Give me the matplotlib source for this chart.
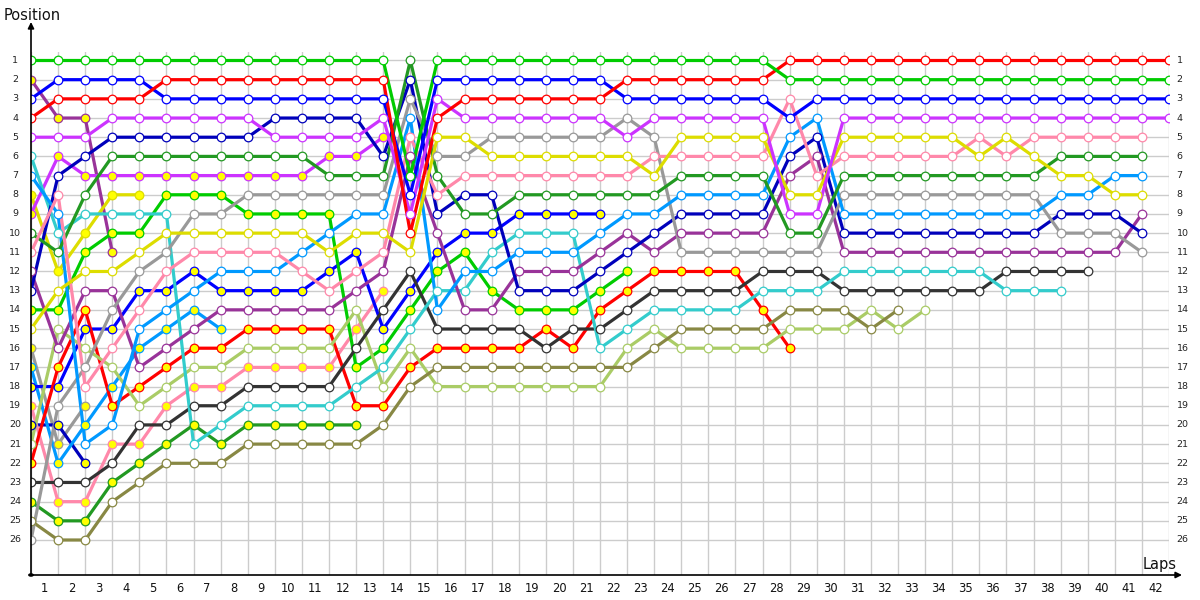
import numpy as np
import matplotlib
matplotlib.use("Agg")
import matplotlib.pyplot as plt

N = None
laps = list(range(0, 43))

# ---- positions per driver, index = lap 0..42 (None = not running) ----
green_w = [1,1,1,1,1,1,1,1,1,1,1,1,1,1,7,1,1,1,1,1,1,1,1,1,1,1,1,1,2,2,2,2,2,2,2,2,2,2,2,2,2,2,2]
red_w = [4,3,3,3,3,2,2,2,2,2,2,2,2,2,10,4,3,3,3,3,3,3,2,2,2,2,2,2,1,1,1,1,1,1,1,1,1,1,1,1,1,1,1]
blue_w = [3,2,2,2,2,3,3,3,3,3,3,3,3,3,8,2,2,2,2,2,2,2,3,3,3,3,3,3,4,3,3,3,3,3,3,3,3,3,3,3,3,3,3]
violet_w = [5,5,5,4,4,4,4,4,4,5,5,5,5,4,9,3,4,4,4,4,4,4,5,4,4,4,4,4,9,9,4,4,4,4,4,4,4,4,4,4,4,4,4]
darkblue_w = [13,7,6,5,5,5,5,5,5,4,4,4,4,6,2,9,8,8,13,13,13,12,11,10,9,9,9,9,6,5,10,10,10,10,10,10,10,10,9,9,9,10,N]
darkgreen_w = [10,11,8,6,6,6,6,6,6,6,6,7,7,7,1,7,9,9,8,8,8,8,8,8,7,7,7,7,10,10,7,7,7,7,7,7,7,7,6,6,6,6,N]
gray_w = [26,19,17,14,12,11,9,9,8,8,8,8,8,8,3,6,6,5,5,5,5,5,4,5,11,11,11,11,11,11,8,8,8,8,8,8,8,8,10,10,10,11,N]
yellow_w = [15,13,12,12,11,10,10,10,10,10,10,11,10,10,11,5,5,6,6,6,6,6,6,7,5,5,5,5,8,8,5,5,5,5,5,6,5,6,7,7,8,8,N]
pink_w = [11,8,18,16,14,12,11,11,11,11,12,13,12,11,5,8,7,7,7,7,7,7,7,6,6,6,6,6,3,7,6,6,6,6,6,5,6,5,5,5,5,5,N]
purple_w = [12,16,13,13,17,16,15,14,14,14,14,14,13,12,6,10,14,14,12,12,12,11,10,11,10,10,10,10,7,6,11,11,11,11,11,11,11,11,11,11,11,9,N]
cyan_w = [6,10,9,9,9,9,21,20,19,19,19,19,18,17,15,13,13,11,10,10,10,16,15,14,14,14,14,13,13,13,12,12,12,12,12,12,13,13,13,N,N,N,N]
ltblue_w = [7,9,21,20,15,14,13,12,12,12,11,10,9,9,4,14,12,12,11,11,11,10,9,9,8,8,8,8,5,4,9,9,9,9,9,9,9,9,8,8,7,7,N]
black_w = [23,23,23,22,20,20,19,19,18,18,18,18,16,14,12,15,15,15,15,16,15,15,14,13,13,13,13,12,12,12,13,13,13,13,13,13,12,12,12,12,N,N,N]
olive_w = [25,26,26,24,23,22,22,22,21,21,21,21,21,20,18,17,17,17,17,17,17,17,17,16,15,15,15,15,14,14,14,15,14,N,N,N,N,N,N,N,N,N,N]
ltgreen_w = [21,15,16,17,19,18,17,17,16,16,16,16,14,18,16,18,18,18,18,18,18,18,16,15,16,16,16,16,15,15,15,14,15,14,N,N,N,N,N,N,N,N,N]

green_y = [14,14,11,10,10,8,8,8,9,9,9,9,17,16,14,12,11,13,14,14,14,13,12]
blue_y = [18,18,15,15,13,13,12,13,13,13,13,12,11,15,13,11,10,10,9,9,9,9]
red_y = [22,17,14,19,18,17,16,16,15,15,15,15,19,19,17,16,16,16,16,15,16,14,13,12,12,12,12,14,16]
ltblue_y = [17,22,20,18,16,15,14,15]
purple_y = [2,4,4,11]
yellow_y = [8,12,10,8,8]
darkblue_y = [20,20,22]
darkgreen_y = [24,25,25,23,22,21,20,21,20,20,20,20,20]
pink_y = [19,24,24,21,21,19,18,18,17,17,17,17,15,13]
violet_y = [9,6,7,7,7,7,7,7,7,7,7,6,6,5]
gray_y = [16,21,19]

C = {
    'green': '#00cc00', 'red': '#ff0000', 'blue': '#0000ff', 'purple': '#993399',
    'violet': '#cc33ff', 'darkblue': '#0000bb', 'darkgreen': '#229922', 'cyan': '#33cccc',
    'ltblue': '#0099ff', 'yellow': '#dddd00', 'gray': '#999999', 'pink': '#ff88aa',
    'black': '#333333', 'olive': '#888844', 'ltgreen': '#aacc66',
}

series = [
    (gray_y, 'gray', True), (darkblue_y, 'darkblue', True), (purple_y, 'purple', True),
    (yellow_y, 'yellow', True), (ltblue_y, 'ltblue', True), (darkgreen_y, 'darkgreen', True),
    (pink_y, 'pink', True), (violet_y, 'violet', True), (blue_y, 'blue', True),
    (green_y, 'green', True), (red_y, 'red', True),
    (ltgreen_w, 'ltgreen', False), (olive_w, 'olive', False), (black_w, 'black', False),
    (cyan_w, 'cyan', False), (purple_w, 'purple', False), (darkblue_w, 'darkblue', False),
    (gray_w, 'gray', False), (ltblue_w, 'ltblue', False), (darkgreen_w, 'darkgreen', False),
    (pink_w, 'pink', False), (yellow_w, 'yellow', False), (violet_w, 'violet', False),
    (blue_w, 'blue', False), (red_w, 'red', False), (green_w, 'green', False),
]

W, H = 1200, 600
fig = plt.figure(figsize=(12, 6), dpi=100)
x0px, x42px = 31, 1169
p1px, p26px = 60.5, 540
axis_px, top_px = 575, 52
step = (p26px - p1px) / 25
ylo = 1 + (axis_px - p1px) / step
yhi = 1 + (top_px - p1px) / step
ax = fig.add_axes([x0px / W, (H - axis_px) / H, (x42px - x0px) / W, (axis_px - top_px) / H])
ax.set_xlim(0, 42)
ax.set_ylim(ylo, yhi)
ax.axis('off')

positions = list(range(1, 27))
for k in laps:
    ax.axvline(k, color='#cccccc', lw=1.0, zorder=0)
ax.hlines(positions, 0, 42, color='#cccccc', lw=1.0, zorder=0)

for vals, cname, yfill in series:
    y = np.array([np.nan if v is None else v for v in vals], dtype=float)
    x = np.array(laps[:len(y)])
    ax.plot(x, y, '-', color=C[cname], lw=2.3, zorder=2, solid_capstyle='round')
    ax.plot(x, y, 'o', ms=6.2, mfc='#ffff00' if yfill else 'white', mec=C[cname],
            mew=0.9, zorder=3)

# tick labels
for p in positions:
    ax.text(-0.58, p, str(p), ha='center', va='center', fontsize=6.8, color='#222222',
            clip_on=False)
    ax.text(42.28, p, str(p), ha='left', va='center', fontsize=6.8, color='#222222',
            clip_on=False)
lap_labels = list(range(1, 43))
for n in lap_labels:
    ax.text(n - 0.5, 1 + (589 - p1px) / step, str(n), ha='center', va='center',
            fontsize=8.3, color='#111111', clip_on=False)

# axes with arrows (figure pixel coords, origin bottom-left)
arrow = dict(arrowstyle='-|>', color='black', lw=1.2, mutation_scale=9,
             shrinkA=0, shrinkB=0)
fig.patches.append(plt.Circle((x0px / W, (H - axis_px) / H), 0.0018, transform=fig.transFigure,
                              color='black'))
ax.annotate('', xy=(x0px, H - 22), xytext=(x0px, H - axis_px), xycoords='figure pixels',
            textcoords='figure pixels', arrowprops=arrow)
ax.annotate('', xy=(1182, H - axis_px), xytext=(x0px, H - axis_px), xycoords='figure pixels',
            textcoords='figure pixels', arrowprops=arrow)
fig.text(4 / W, 1 - 15 / H, 'Position', ha='left', va='center', fontsize=10.5, color='#111111')
fig.text(1143 / W, 1 - 564 / H, 'Laps', ha='left', va='center', fontsize=10.5, color='#111111')

fig.savefig('out.png', dpi=100, facecolor='white')
